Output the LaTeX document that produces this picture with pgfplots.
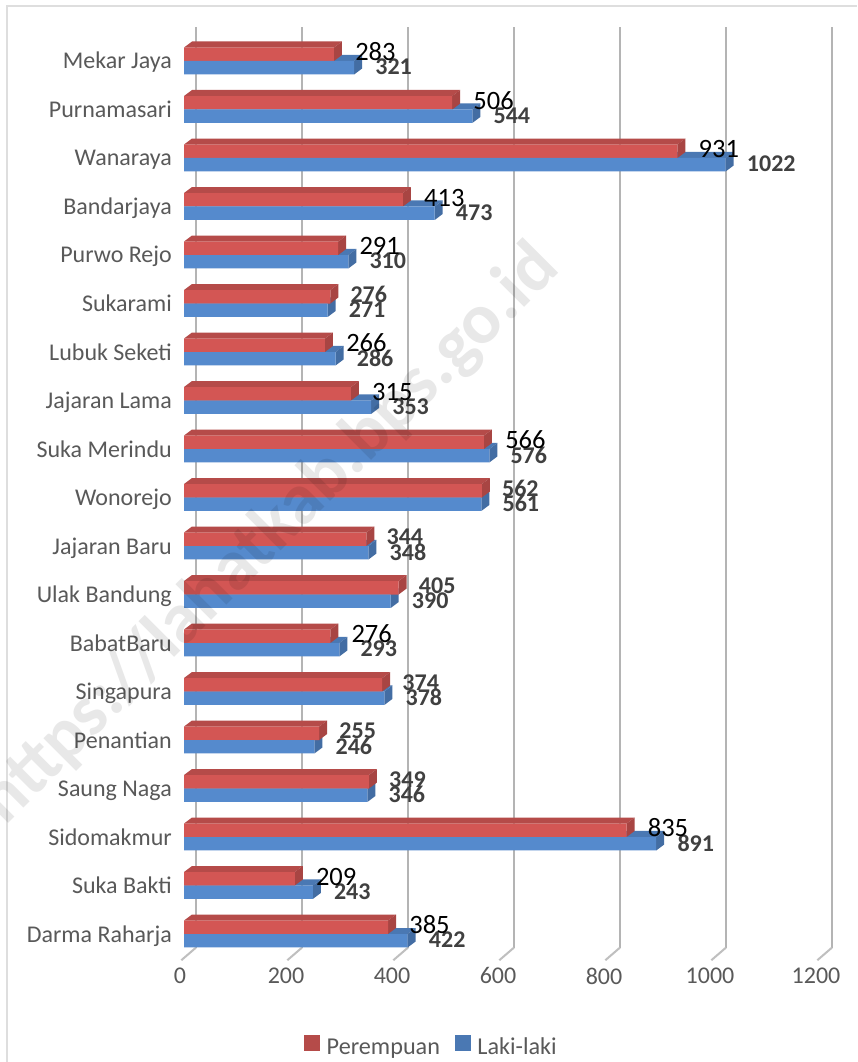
\documentclass[border=0pt]{standalone}
\usepackage{pgfplots}
\pgfplotsset{compat=1.18}
\usepackage{pgfplotstable}
\usepackage{fontspec}
\setmainfont{Carlito}
\definecolor{redf}{HTML}{D35654}
\definecolor{redt}{HTML}{B54B49}
\definecolor{reds}{HTML}{A84543}
\definecolor{bluef}{HTML}{558ACD}
\definecolor{bluet}{HTML}{4A78B3}
\definecolor{blues}{HTML}{436DA3}
\definecolor{gridc}{HTML}{B4B4B4}
\definecolor{txt}{HTML}{595959}
\definecolor{lab}{HTML}{404040}
\newlength{\px}\setlength{\px}{0.75pt}
% y: category index (0 = top); x: value. 1 unit = 0.53 px
\pgfplotstableread{
y perempuan laki
0 283 321
1 506 544
2 931 1022
3 413 473
4 291 310
5 276 271
6 266 286
7 315 353
8 566 576
9 562 561
10 344 348
11 405 390
12 276 293
13 374 378
14 255 246
15 349 346
16 835 891
17 209 243
18 385 422
}\datatable
\newcommand{\dx}{15.1}   % 8 px depth in value units
\newcommand{\dy}{0.124}  % 6 px depth in category units
\newcommand{\half}{0.278}
% depth faces of one bar: {y top}{y bottom}{value}{top colour}{side colour}
\newcommand{\depth}[5]{%
 \pgfmathsetmacro{\va}{#3+\dx}\pgfmathsetmacro{\ya}{#1-\dy}\pgfmathsetmacro{\yb}{#2-\dy}%
 \addplot[forget plot,draw=none,fill=#4] coordinates {(0,#1)(\dx,\ya)(\va,\ya)(#3,#1)} -- cycle;
 \addplot[forget plot,draw=none,fill=#5] coordinates {(#3,#1)(\va,\ya)(\va,\yb)(#3,#2)} -- cycle;
}
\newcommand{\pair}[3]{%
 \pgfmathsetmacro{\ytop}{#1-\half}\pgfmathsetmacro{\ybot}{#1+\half}%
 \depth{#1}{\ybot}{#3}{bluet}{blues}%
 \pgfmathsetmacro{\ytop}{#1-\half}%
 \depth{\ytop}{#1}{#2}{redt}{reds}%
}
\newcommand{\gridl}[1]{%
 \pgfmathsetmacro{\gx}{#1+22.6}\pgfmathsetmacro{\fx}{#1-5}%
 \addplot[forget plot,gridc,line width=2\px] coordinates {(\gx,-0.70)(\gx,18.28)};
 \addplot[forget plot,gridc!85,line width=2\px] coordinates {(\gx,18.28)(\fx,18.54)};
}
\begin{document}
\begin{tikzpicture}
\useasboundingbox (0,0) rectangle (857\px,1062\px);
\fill[white] (0,0) rectangle (857\px,1062\px);
\draw[black!13,line width=2\px] (7\px,0\px) -- (7\px,1056\px) -- (857\px,1056\px);
\begin{axis}[
 at={(184\px,102\px)},anchor=south west,
 scale only axis,width=666\px,height=933\px,
 xmin=0,xmax=1256.6,ymin=-0.701,ymax=18.536,y dir=reverse,
 axis line style={draw=none},
 clip=false,
 tick style={draw=none},
 xtick={0,200,400,600,800,1000,1200},
 ytick={0,...,18},
 yticklabels={Mekar Jaya,Purnamasari,Wanaraya,Bandarjaya,Purwo Rejo,Sukarami,Lubuk Seketi,Jajaran Lama,Suka Merindu,Wonorejo,Jajaran Baru,Ulak Bandung,BabatBaru,Singapura,Penantian,Saung Naga,Sidomakmur,Suka Bakti,Darma Raharja},
 /pgf/number format/assume math mode=true,
 /pgf/number format/1000 sep={},
 tick label style={text=txt,font=\fontsize{24\px}{26\px}\selectfont},
 xticklabel style={xshift=-4\px,yshift=-3\px},
 yticklabel style={xshift=-7.5\px,text height=22\px,text depth=6\px},
 legend style={at={(0.372,-0.0775)},anchor=north,draw=none,fill=none,legend columns=2,font=\fontsize{24.2\px}{26\px}\selectfont,text=txt,/tikz/every even column/.append style={column sep=12\px},/tikz/every odd column/.append style={column sep=4\px}},
 legend image code/.code={\fill[#1] (-2pt,-3pt) rectangle (10pt,9pt);},
]
\gridl{0}\gridl{200}\gridl{400}\gridl{600}\gridl{800}\gridl{1000}\gridl{1200}
\pair{0}{283}{321}\pair{1}{506}{544}\pair{2}{931}{1022}\pair{3}{413}{473}\pair{4}{291}{310}
\pair{5}{276}{271}\pair{6}{266}{286}\pair{7}{315}{353}\pair{8}{566}{576}\pair{9}{562}{561}
\pair{10}{344}{348}\pair{11}{405}{390}\pair{12}{276}{293}\pair{13}{374}{378}\pair{14}{255}{246}
\pair{15}{349}{346}\pair{16}{835}{891}\pair{17}{209}{243}\pair{18}{385}{422}
\addlegendimage{fill=redt,draw=none}\addlegendentry{Perempuan}
\addlegendimage{fill=bluet,draw=none}\addlegendentry{Laki-laki}
\addplot[forget plot,xbar,bar width=0.278,bar shift=-0.139,draw=none,fill=redf] table[x=perempuan,y=y]{\datatable};
\addplot[forget plot,xbar,bar width=0.278,bar shift=0.139,draw=none,fill=bluef] table[x=laki,y=y]{\datatable};
% Laki-laki labels
\addplot[forget plot,only marks,mark=none,nodes near coords,point meta=explicit symbolic,
 every node near coord/.style={anchor=west,inner xsep=0pt,xshift=21\px,yshift=-6\px,text=lab,font=\bfseries\fontsize{24\px}{26\px}\selectfont}]
 table[x=laki,y=y,meta=laki]{\datatable};
% Perempuan labels, grey bold
\addplot[forget plot,only marks,mark=none,nodes near coords,point meta=explicit symbolic,
 every node near coord/.style={anchor=west,inner xsep=0pt,xshift=20\px,yshift=9\px,text=lab,font=\bfseries\fontsize{24\px}{26\px}\selectfont}]
 table[x=v,y=y,meta=v]{
y v
5 276
9 562
10 344
11 405
13 374
14 255
15 349
};
% Perempuan labels, black
\addplot[forget plot,only marks,mark=none,nodes near coords,point meta=explicit symbolic,
 every node near coord/.style={anchor=west,inner xsep=0pt,xshift=21\px,yshift=9\px,text=black,font=\fontsize{26.5\px}{28\px}\selectfont}]
 table[x=v,y=y,meta=v]{
y v
0 283
1 506
2 931
3 413
4 291
6 266
7 315
8 566
12 276
16 835
17 209
18 385
};
\end{axis}
\begin{scope}
\clip (0,0) rectangle (857\px,1062\px);
\node[rotate=45,text=black,opacity=0.09,font=\bfseries\fontsize{72\px}{80\px}\selectfont,anchor=center] at (270\px,527\px) {https://lahatkab.bps.go.id};
\end{scope}
\end{tikzpicture}
\end{document}
